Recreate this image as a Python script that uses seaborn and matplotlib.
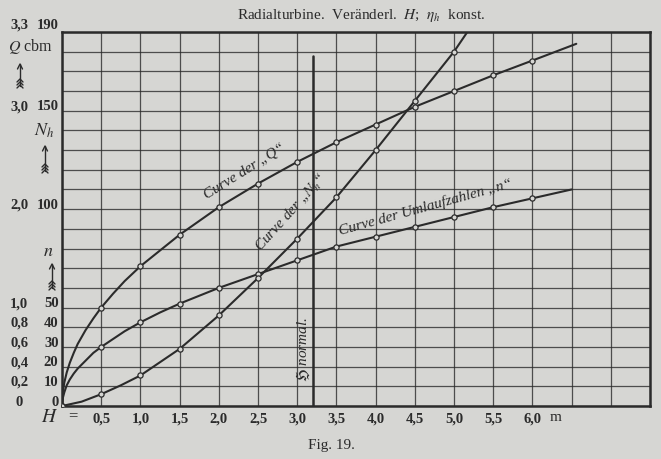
import matplotlib
matplotlib.use("Agg")
import matplotlib.pyplot as plt
import seaborn as sns
from matplotlib.lines import Line2D

# --- values (H in m, ordinate in scale units, 10 per grid row)
H_steps = [0.0, 0.5, 1.0, 1.5, 2.0, 2.5, 3.0, 3.5, 4.0, 4.5, 5.0, 5.5, 6.0]
Q_vals = [0, 50, 71, 87, 101, 113, 124, 134, 143, 152, 160, 168, 175.5]
n_vals = [0, 30, 42.5, 52, 60, 67, 74, 81, 86, 91, 96, 101, 105.5]
Nh_H = [0.0, 0.5, 1.0, 1.5, 2.0, 2.5, 3.0, 3.5, 4.0, 4.5, 5.0]
Nh_vals = [0, 6, 15.5, 29, 46, 65, 85, 106, 130, 155, 180]

# extra unmarked points on the drawn curves
Q_extra_H = [0.01, 0.03, 0.06, 0.1, 0.15, 0.2, 0.3, 0.4, 0.65, 0.8, 1.25, 6.56]
Q_extra = [7, 12, 17, 22, 27, 31.5, 38.5, 44.5, 57, 63.5, 79, 184]
n_extra_H = [0.01, 0.03, 0.06, 0.1, 0.15, 0.2, 0.3, 0.4, 0.65, 0.8, 1.25, 6.5]
n_extra = [4, 7, 10.5, 13.5, 16.5, 19, 23, 27, 34, 38, 47.5, 110]
Nh_extra_H = [0.25, 0.75, 5.17]
Nh_extra = [2.2, 10.5, 190]

H_normal = 3.2
normal_top = 178

x_grid = [0.5 * i for i in range(16)]
x_labels = ["", "0,5", "1,0", "1,5", "2,0", "2,5", "3,0", "3,5", "4,0", "4,5",
            "5,0", "5,5", "6,0", "", "", ""]
N_ticks = [0, 10, 20, 30, 40, 50, 100, 150, 190]
N_labels = ["0", "10", "20", "30", "40", "50", "100", "150", "190"]
Q_labels = ["0", "0,2", "0,4", "0,6", "0,8", "1,0", "2,0", "3,0", "3,3"]

PAPER = "#d6d6d3"
INK = "#2b2b2b"

sns.set_theme(style="white")
plt.rcParams["font.family"] = ["Liberation Serif", "DejaVu Serif"]
plt.rcParams["mathtext.fontset"] = "stix"

W, Hpx = 661, 459
fig = plt.figure(figsize=(W / 100, Hpx / 100), dpi=100, facecolor=PAPER)
ax = fig.add_axes([62 / W, 1 - 406 / Hpx, 588 / W, 374 / Hpx], facecolor=PAPER)


def trace(hs, vs, eh, ev):
    pts = sorted(zip(list(hs) + list(eh), list(vs) + list(ev)))
    return [p[0] for p in pts], [p[1] for p in pts]


for hs, vs, eh, ev in [(H_steps, Q_vals, Q_extra_H, Q_extra),
                       (H_steps, n_vals, n_extra_H, n_extra),
                       (Nh_H, Nh_vals, Nh_extra_H, Nh_extra)]:
    tx, ty = trace(hs, vs, eh, ev)
    sns.lineplot(x=tx, y=ty, ax=ax, color=INK, lw=1.5, sort=False, zorder=3)
    sns.scatterplot(x=hs, y=vs, ax=ax, s=14, marker="o", facecolor=PAPER,
                    edgecolor=INK, linewidth=0.9, zorder=4)

ax.plot([H_normal, H_normal], [0, normal_top], color=INK, lw=1.8, zorder=3)

ax.set_xlim(0, 7.5)
ax.set_ylim(0, 190)
ax.set_xticks(x_grid)
ax.set_xticklabels(x_labels, fontsize=10.5, fontweight="bold", color=INK)
ax.set_yticks(range(0, 191, 10))
ax.set_yticklabels([])
ax.tick_params(length=0, pad=5)
ax.grid(True, color=INK, lw=0.9, alpha=0.8)
for sp in ax.spines.values():
    sp.set_color(INK)
    sp.set_linewidth(1.8)

ytr = ax.get_yaxis_transform()
for v, nl, ql in zip(N_ticks, N_labels, Q_labels):
    yy = v + (3.5 if v == 190 else 2)
    ax.text(-0.006, yy, nl, transform=ytr, ha="right", va="center",
            fontsize=10.5, fontweight="bold", color=INK)
    ax.text(-0.073, yy, ql, transform=ytr, ha="center", va="center",
            fontsize=10.5, fontweight="bold", color=INK)

# unit annotations on the left
fig.text(30 / W, 1 - 47 / Hpx, "$Q$ cbm", ha="center", va="center", fontsize=11.5, color=INK)
fig.text(44 / W, 1 - 131 / Hpx, "$N_h$", ha="center", va="center", fontsize=13, color=INK)
fig.text(48 / W, 1 - 251 / Hpx, "$n$", ha="center", va="center", fontsize=13, color=INK)
fig.text(50 / W, 1 - 418 / Hpx, "$H$", ha="center", va="center", fontsize=14, color=INK)
fig.text(73 / W, 1 - 416 / Hpx, "=", ha="center", va="center", fontsize=12, color=INK)
ax.text(6.0 + 0.3, -5.7, "m", ha="center", va="center", fontsize=11, color=INK)


def feather_arrow(xp, ytop, ybot):
    f = lambda x, y: (x / W, 1 - y / Hpx)
    x0, y0 = f(xp, ybot)
    x1, y1 = f(xp, ytop)
    fig.add_artist(Line2D([x0, x1], [y0, y1], color=INK, lw=1.0, transform=fig.transFigure))
    for dy in (0, 3, 6):
        a = f(xp - 3, ybot - dy + 2)
        b = f(xp, ybot - dy - 1)
        c = f(xp + 3, ybot - dy + 2)
        fig.add_artist(Line2D([a[0], b[0], c[0]], [a[1], b[1], c[1]], color=INK,
                              lw=1.0, transform=fig.transFigure))
    h1 = f(xp - 2.5, ytop + 5)
    h2 = f(xp + 2.5, ytop + 5)
    fig.add_artist(Line2D([h1[0], x1, h2[0]], [h1[1], y1, h2[1]], color=INK,
                          lw=1.0, transform=fig.transFigure))


feather_arrow(20, 64, 86)
feather_arrow(45, 146, 171)
feather_arrow(52, 264, 288)

# curve labels (handwritten in the original, sitting just above each curve)
lab = dict(fontstyle="italic", fontsize=11, color=INK, ha="center", va="center",
           rotation_mode="anchor")
ax.text(2.33, 119.5, "Curve der \u201eQ\u201c", rotation=32, **lab)
ax.text(2.93, 98, "Curve der \u201e$N_h$\u201c", rotation=48, **lab)
ax.text(4.63, 101, "Curve der Umlaufzahlen \u201en\u201c", rotation=15.5, **lab)
ax.text(3.08, 28.5, "$\\mathfrak{H}$ normal.", rotation=90, **lab)

fig.text(361 / W, 1 - 15 / Hpx, "Radialturbine.  Veränderl.  $H$;  $\\eta_h$  konst.",
         ha="center", va="center", fontsize=11, color=INK)
fig.text(331 / W, 1 - 445 / Hpx, "Fig. 19.", ha="center", va="center", fontsize=11, color=INK)

fig.savefig("out.png", dpi=100, facecolor=PAPER)
